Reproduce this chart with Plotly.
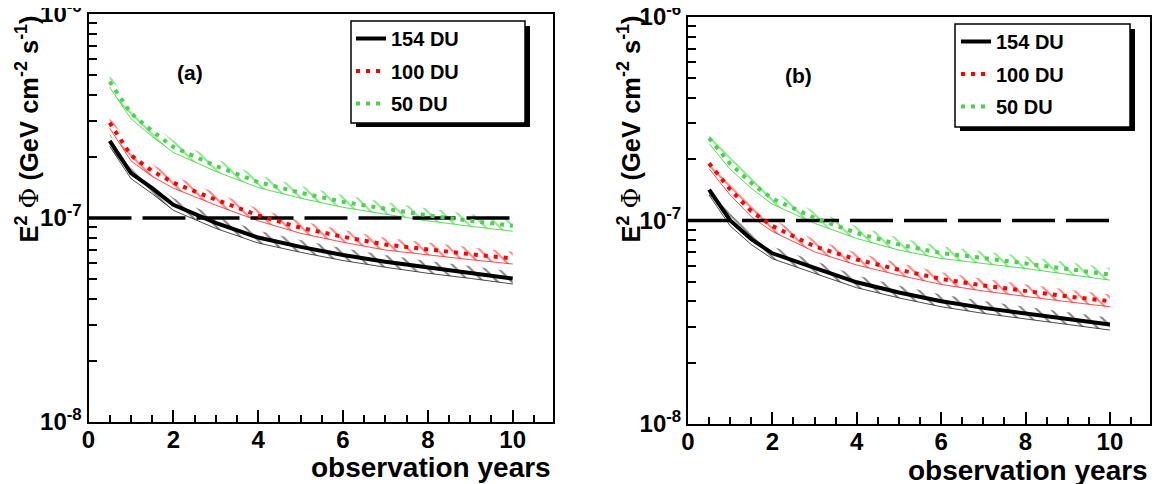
import plotly.graph_objects as go

# ---------------- data ----------------
years = [0.5, 1, 1.5, 2, 3, 4, 5, 6, 7, 8, 9, 10]
series_names = ["154 DU", "100 DU", "50 DU"]

# panel (a)
a_154 = [2.39e-7, 1.66e-7, 1.40e-7, 1.16e-7, 9.46e-8, 8.02e-8, 7.22e-8, 6.58e-8, 6.10e-8, 5.70e-8, 5.38e-8, 5.05e-8]
a_100 = [2.93e-7, 2.03e-7, 1.70e-7, 1.49e-7, 1.23e-7, 1.03e-7, 8.95e-8, 8.09e-8, 7.41e-8, 7.00e-8, 6.65e-8, 6.33e-8]
a_50 = [4.66e-7, 3.26e-7, 2.67e-7, 2.23e-7, 1.80e-7, 1.50e-7, 1.33e-7, 1.20e-7, 1.11e-7, 1.03e-7, 9.69e-8, 9.16e-8]

# panel (b)
b_154 = [1.42e-7, 1.00e-7, 8.10e-8, 6.90e-8, 5.85e-8, 4.97e-8, 4.43e-8, 4.01e-8, 3.72e-8, 3.48e-8, 3.28e-8, 3.08e-8]
b_100 = [1.91e-7, 1.42e-7, 1.11e-7, 9.40e-8, 7.46e-8, 6.43e-8, 5.73e-8, 5.16e-8, 4.79e-8, 4.49e-8, 4.24e-8, 4.01e-8]
b_50 = [2.54e-7, 1.90e-7, 1.53e-7, 1.28e-7, 1.03e-7, 8.68e-8, 7.61e-8, 6.92e-8, 6.54e-8, 6.18e-8, 5.78e-8, 5.42e-8]

# relative extent of the hatched uncertainty bands
band_up = 1.08
band_lo = 0.94

threshold_x = [0, 10]
threshold_y = [1e-7, 1e-7]

y_tickvals = [1e-8, 1e-7, 1e-6]
y_ticktext = ["10<sup>-8</sup>", "10<sup>-7</sup>", "10<sup>-6</sup>"]
y_minor = [m * 10 ** e for e in (-8, -7) for m in range(2, 10)]
x_tickvals = [0, 2, 4, 6, 8, 10]

# ---------------- styling ----------------
W, H = 1166, 484
OFF = 8  # page body margin of the browser
FONT = "Liberation Sans"
line_col = ["#000000", "#ff0000", "#4fcf4f"]
hatch_col = ["#000000", "#ff0000", "#11d011"]
line_style = [dict(width=4, dash="solid"),
              dict(width=4, dash="4px,6px"),
              dict(width=4, dash="4px,6px")]


def px(x):
    return (x - OFF) / W


def py(y):
    return 1 - (y - OFF) / H


fig = go.Figure()

panels = [
    ("x", "y", "legend", [a_154, a_100, a_50]),
    ("x2", "y2", "legend2", [b_154, b_100, b_50]),
]

# hatched bands
for xa, ya, lg, data in panels:
    for i, vals in enumerate(data):
        lo = [v * band_lo for v in vals]
        up = [v * band_up for v in vals]
        fig.add_trace(go.Scatter(x=years, y=lo, xaxis=xa, yaxis=ya, mode="lines",
                                 line=dict(color=hatch_col[i], width=0.7),
                                 showlegend=False, hoverinfo="skip"))
        fig.add_trace(go.Scatter(x=years, y=up, xaxis=xa, yaxis=ya, mode="lines",
                                 line=dict(color=hatch_col[i], width=0),
                                 fill="tonexty", fillcolor="rgba(0,0,0,0)",
                                 fillpattern=dict(shape="\\", fgcolor=hatch_col[i],
                                                  bgcolor="rgba(0,0,0,0)",
                                                  size=10, solidity=0.2),
                                 showlegend=False, hoverinfo="skip"))

# threshold dashed lines
for xa, ya, lg, data in panels:
    fig.add_trace(go.Scatter(x=threshold_x, y=threshold_y, xaxis=xa, yaxis=ya,
                             mode="lines", line=dict(color="black", width=3.5, dash="43px,11px"),
                             showlegend=False, hoverinfo="skip"))

# main curves
for xa, ya, lg, data in panels:
    for i, vals in enumerate(data):
        fig.add_trace(go.Scatter(x=years, y=vals, xaxis=xa, yaxis=ya, mode="lines",
                                 name=series_names[i], legend=lg, legendgroup=lg + str(i),
                                 line=dict(color=line_col[i], **line_style[i])))

axis_font = dict(family=FONT, size=24, color="black", weight="bold")

xcommon = dict(range=[0, 10.95], showline=True, linecolor="black", linewidth=2, mirror=True,
               ticks="inside", ticklen=12, tickwidth=1.5, tickcolor="black", automargin=False,
               tickvals=x_tickvals, tickfont=axis_font, showgrid=False, zeroline=False,
               ticklabeloverflow="allow", ticklabelstandoff=-5,
               minor=dict(ticks="inside", ticklen=7, tickwidth=1.5, tickcolor="black", dtick=0.5,
                          tick0=0, showgrid=False))
ycommon = dict(type="log", range=[-8, -6], showline=True, linecolor="black", linewidth=2,
               mirror=True, ticks="inside", ticklen=12, tickwidth=1.5, tickcolor="black",
               tickvals=y_tickvals, ticktext=y_ticktext, tickfont=axis_font, automargin=False,
               showgrid=False, zeroline=False, ticklabeloverflow="allow",
               minor=dict(ticks="inside", ticklen=8, tickwidth=1.5, tickcolor="black",
                          tickvals=y_minor, showgrid=False))

legend_common = dict(bgcolor="rgba(0,0,0,0)", borderwidth=0, tracegroupgap=3.5,
                     font=dict(family=FONT, size=20, color="black", weight="bold"),
                     xanchor="left", yanchor="top", itemwidth=30)

fig.update_layout(
    width=W, height=H, margin=dict(l=0, r=0, t=0, b=0, autoexpand=False),
    paper_bgcolor="white", plot_bgcolor="white",
    xaxis=dict(domain=[px(88.5), px(553)], anchor="y", **xcommon),
    yaxis=dict(domain=[py(422), py(14)], anchor="x", **ycommon),
    xaxis2=dict(domain=[px(688), px(1150)], anchor="y2", **xcommon),
    yaxis2=dict(domain=[py(424), py(17)], anchor="x2", **ycommon),
    legend=dict(x=px(351), y=py(19), **legend_common),
    legend2=dict(x=px(956), y=py(22), **legend_common),
    showlegend=True,
)

shapes = []
for (x0, y0, x1, y1) in [(351, 21, 525, 123), (955, 24, 1130, 127)]:
    shapes.append(dict(type="rect", xref="paper", yref="paper", layer="above",
                       x0=px(x0 + 5), x1=px(x1 + 5), y0=py(y0 + 5), y1=py(y1 + 4),
                       fillcolor="black", line=dict(width=0)))
    shapes.append(dict(type="rect", xref="paper", yref="paper", layer="above",
                       x0=px(x0), x1=px(x1), y0=py(y0), y1=py(y1),
                       fillcolor="white", line=dict(color="black", width=1.5)))
fig.update_layout(shapes=shapes)

ytitle = ("E<sup>2</sup> <span style='font-family:DejaVu Serif;font-weight:normal'>Φ</span>"
          " (GeV cm<sup>-2</sup> s<sup>-1</sup>)")
ann = []
for cx, top in [(28, 14), (630, 14)]:
    ann.append(dict(text=ytitle, xref="paper", yref="paper", x=px(cx), y=py(top),
                    xanchor="center", yanchor="top", textangle=-90, showarrow=False,
                    font=dict(family=FONT, size=25.5, color="black", weight="bold")))
for rx, cy in [(553, 467), (1150, 470)]:
    ann.append(dict(text="observation years", xref="paper", yref="paper", x=px(rx), y=py(cy),
                    xanchor="right", yanchor="middle", showarrow=False,
                    font=dict(family=FONT, size=28, color="black", weight="bold")))
for txt, cx, cy in [("(a)", 190, 72), ("(b)", 798, 75)]:
    ann.append(dict(text=txt, xref="paper", yref="paper", x=px(cx), y=py(cy),
                    xanchor="center", yanchor="middle", showarrow=False,
                    font=dict(family=FONT, size=21, color="black", weight="bold")))
fig.update_layout(annotations=ann)

fig.write_html("out.html")
